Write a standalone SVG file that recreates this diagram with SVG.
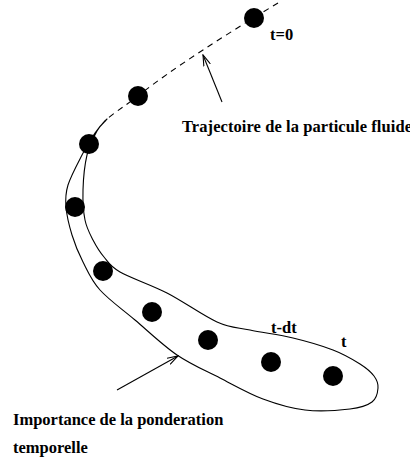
<svg xmlns="http://www.w3.org/2000/svg" width="410" height="458" viewBox="0 0 410 458">
<style>
  .lbl { font-family: "Liberation Serif", "Times New Roman", serif; font-weight: bold; font-size: 16.5px; fill: #000; }
  .dot { fill: #000; }
  .ln { fill: none; stroke: #000; stroke-width: 1.1; }
</style>
<defs>
  <marker id="arr" markerWidth="12" markerHeight="8" refX="11" refY="4" orient="auto" markerUnits="userSpaceOnUse">
    <path d="M0,0.5 L11,4 L0,7.5" fill="none" stroke="#000" stroke-width="1.1"/>
  </marker>
</defs>
<rect width="410" height="458" fill="#fff"/>
<g id="envelope">
  <path class="ln" d="M107,119 C106.7,119.3 99.2,127 95,133 C90.8,139 86.5,146.3 82,155 C77.5,163.7 70.7,176.3 68,185 C65.3,193.7 65.3,198.7 66,207 C66.7,215.3 69.2,225.8 72,235 C74.8,244.2 78.3,252.8 83,262 C87.7,271.2 91.3,280.3 100,290 C108.7,299.7 122.2,309.2 135,320 C147.8,330.8 162.8,345.3 177,355 C191.2,364.7 205.7,370.7 220,378 C234.3,385.3 248.8,393.7 263,399 C277.2,404.3 290.5,408.3 305,410 C319.5,411.7 338.8,410.3 350,409 C361.2,407.7 367.3,405.5 372,402 C376.7,398.5 377.7,392.3 378,388 C378.3,383.7 377,380 374,376 C371,372 366.8,368.3 360,364 C353.2,359.7 344.2,354.3 333,350 C321.8,345.7 306.8,341.3 293,338 C279.2,334.7 262.7,332.7 250,330 C237.3,327.3 230.8,328.2 217,322 C203.2,315.8 183.2,301.3 167,293 C150.8,284.7 130.5,278 120,272 C109.5,266 108.5,262.3 104,257 C99.5,251.7 96.2,246.2 93,240 C89.8,233.8 86.7,228.3 85,220 C83.3,211.7 82.7,200.8 83,190 C83.3,179.2 84.7,164.8 87,155 C89.3,145.2 93.7,137 97,131 C100.3,125 107.3,118.7 107,119 Z"/>
</g>
<g id="connectors">
  <path class="ln" stroke-dasharray="6 5" d="M278,3 C230,32 170,70 138,96 C125,106 112,114 105,121"/>
  <line class="ln" x1="222" y1="102" x2="203" y2="55" marker-end="url(#arr)"/>
  <line class="ln" x1="117" y1="390" x2="178" y2="356" marker-end="url(#arr)"/>
</g>
<g id="p1"><circle class="dot" cx="254" cy="18" r="10"/></g>
<g id="p2"><circle class="dot" cx="138" cy="96" r="10"/></g>
<g id="p3"><circle class="dot" cx="89" cy="144" r="10"/></g>
<g id="p4"><circle class="dot" cx="75" cy="207" r="10"/></g>
<g id="p5"><circle class="dot" cx="103" cy="271" r="10"/></g>
<g id="p6"><circle class="dot" cx="152" cy="312" r="10"/></g>
<g id="p7"><circle class="dot" cx="208" cy="340" r="10"/></g>
<g id="p8"><circle class="dot" cx="271" cy="362" r="10"/></g>
<g id="p9"><circle class="dot" cx="333" cy="376" r="10"/></g>
<g id="labels">
  <text class="lbl" x="270" y="40">t=0</text>
  <text class="lbl" x="182" y="132" textLength="230" lengthAdjust="spacing">Trajectoire de la particule fluide</text>
  <text class="lbl" x="271" y="333">t-dt</text>
  <text class="lbl" x="341" y="347">t</text>
  <text class="lbl" x="13" y="425">Importance de la ponderation</text>
  <text class="lbl" x="13" y="453">temporelle</text>
</g>
</svg>
